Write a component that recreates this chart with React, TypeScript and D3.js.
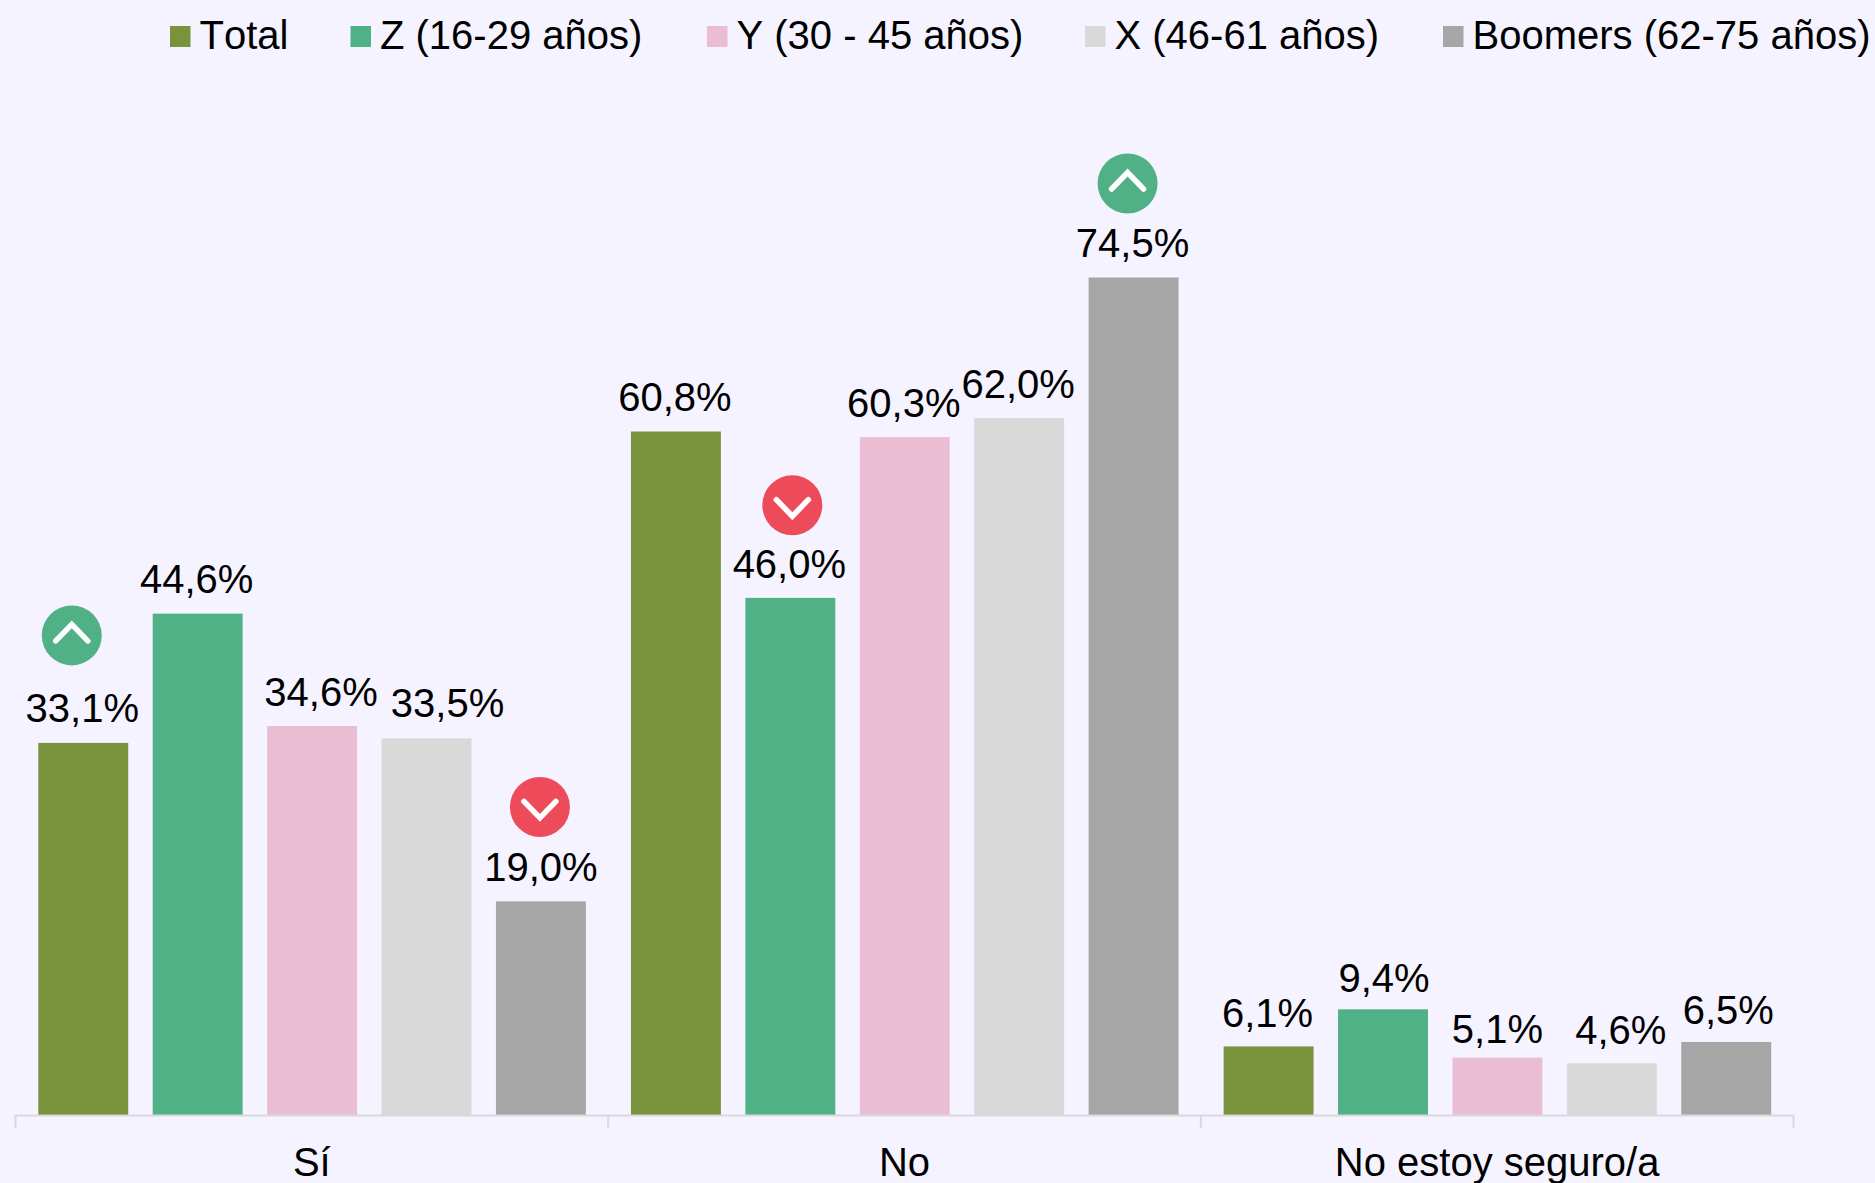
import React from "react";
import * as d3 from "d3";

const categories = ["Sí", "No", "No estoy seguro/a"];
const seriesNames = ["Total", "Z (16-29 años)", "Y (30 - 45 años)", "X (46-61 años)", "Boomers (62-75 años)"];
const totalValues = [33.1, 60.8, 6.1];
const zValues = [44.6, 46.0, 9.4];
const yValues = [34.6, 60.3, 5.1];
const xValues = [33.5, 62.0, 4.6];
const boomerValues = [19.0, 74.5, 6.5];
const seriesValues = [totalValues, zValues, yValues, xValues, boomerValues];
const colors = ["#78933B", "#50B086", "#EBBDD3", "#D9D9D9", "#A6A6A6"];
const markers = [
  { cat: 0, ser: 0, dir: "up" },
  { cat: 0, ser: 4, dir: "down" },
  { cat: 1, ser: 1, dir: "down" },
  { cat: 1, ser: 4, dir: "up" },
];

const W = 1875, H = 1183;
const FONT = "'Liberation Sans', Arial, sans-serif";
const FS = 40;
const BASE = 1115;

// manual nudges of data labels [dx, dy], per series then per category
const labelNudge = [
  [[-1, 0.5], [-1, 0.5], [-1, 1.5]],
  [[-1, 0.5], [-1, 1], [1, 3.5]],
  [[9, 0.5], [-1, 0.5], [0, 6]],
  [[21, -0.5], [-1, 0.5], [9, 2]],
  [[0, 0.5], [-1, 0.5], [2, 3.5]],
];
const legendSwatchX = [170, 350.5, 707, 1085, 1443];
const markerPos = [[-11.5, -107.5], [-1, -94.5], [2, -92.7], [-6, -94]];

export default function App() {
  const y = d3.scaleLinear().domain([0, 74.5]).range([BASE, 277.5]);
  const x0 = d3.scaleBand<number>().domain(d3.range(categories.length)).range([15.5, 1793.5]);
  const x1 = d3.scaleBand<number>().domain(d3.range(seriesNames.length)).range([22.8, x0.bandwidth() - 22.3]).paddingInner(0.214).paddingOuter(0);
  const bx = (c: number, s: number) => x0(c)! + x1(s)!;
  const bw = x1.bandwidth();
  return (
    <div style={{ position: "fixed", left: 0, top: 0, width: W, height: H, background: "#F5F3FF" }}>
      <svg width={W} height={H} style={{ display: "block", fontKerning: "none" }} fontFamily={FONT}>
        <rect width={W} height={H} fill="#F5F3FF" />
        {seriesNames.map((n, i) => (
          <g key={n}>
            <rect x={legendSwatchX[i]} y={26} width={20.5} height={21} fill={colors[i]} />
            <text x={legendSwatchX[i] + 29.5} y={49} fontSize={FS} fill="#000">{n}</text>
          </g>
        ))}
        {seriesValues.map((vals, s) =>
          vals.map((v, c) => (
            <rect key={`${s}-${c}`} x={bx(c, s)} y={y(v)} width={bw} height={BASE - y(v)} fill={colors[s]} />
          ))
        )}
        <line x1={15.5} x2={1793.5} y1={BASE + 0.5} y2={BASE + 0.5} stroke="#D9D9D9" strokeWidth={2} />
        {[...x0.domain().map((c) => x0(c)!), x0.range()[1]].map((t, i) => (
          <line key={i} x1={t} x2={t} y1={BASE} y2={BASE + 13} stroke="#D9D9D9" strokeWidth={2} />
        ))}
        {categories.map((cat, c) => (
          <text key={cat} x={x0(c)! + x0.bandwidth() / 2} y={1175.5} fontSize={FS} textAnchor="middle" fill="#000">{cat}</text>
        ))}
        {seriesValues.map((vals, s) =>
          vals.map((v, c) => (
            <text
              key={`l${s}-${c}`}
              x={bx(c, s) + bw / 2 + labelNudge[s][c][0]}
              y={y(v) - 21 + labelNudge[s][c][1]}
              fontSize={FS}
              textAnchor="middle"
              fill="#000"
            >
              {v.toFixed(1).replace(".", ",") + "%"}
            </text>
          ))
        )}
        {markers.map((m, i) => {
          const cx = bx(m.cat, m.ser) + bw / 2 + markerPos[i][0];
          const cy = y(seriesValues[m.ser][m.cat]) + markerPos[i][1];
          const d = m.dir === "up" ? -1 : 1;
          const line = d3.line();
          return (
            <g key={i}>
              <circle cx={cx} cy={cy} r={30} fill={m.dir === "up" ? "#50B086" : "#EE4B5A"} />
              <path
                d={line([[cx - 16, cy - d * 5.5], [cx, cy + d * 11], [cx + 16, cy - d * 5.5]])!}
                fill="none"
                stroke="#fff"
                strokeWidth={5.5}
                strokeLinecap="round"
                strokeLinejoin="miter"
              />
            </g>
          );
        })}
      </svg>
    </div>
  );
}
